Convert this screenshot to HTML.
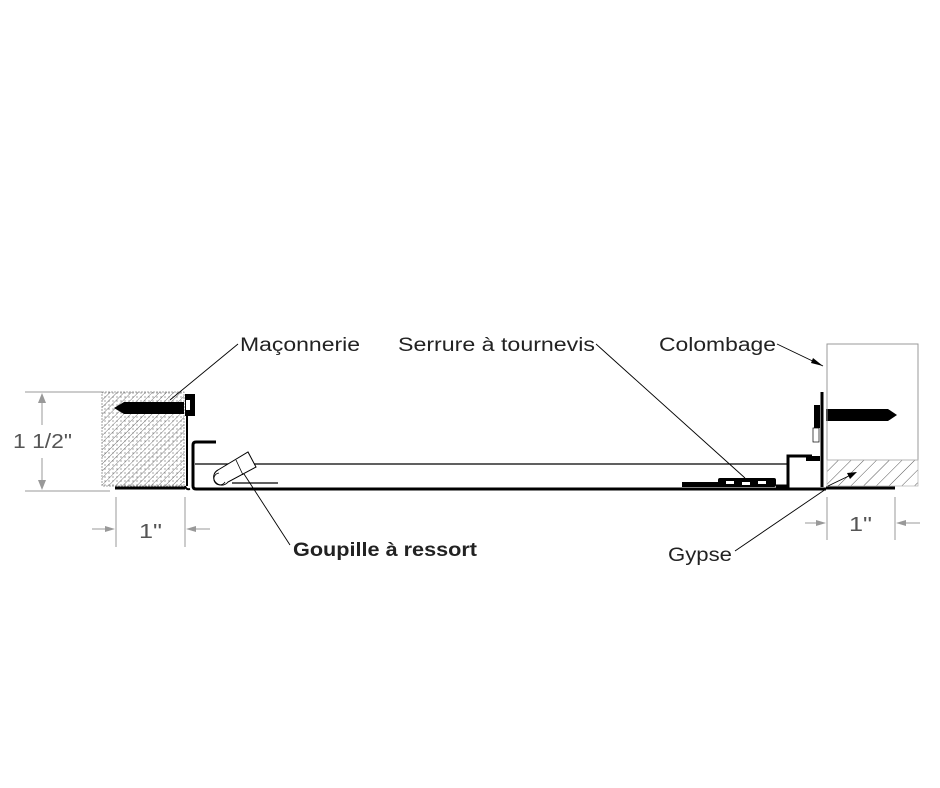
<!DOCTYPE html>
<html><head><style>
html,body{margin:0;padding:0;background:#fff;}
svg{display:block;}
text{font-family:"Liberation Sans",Arial,sans-serif;}
</style></head><body>
<svg width="940" height="788" viewBox="0 0 940 788" xmlns="http://www.w3.org/2000/svg">
<defs>
<pattern id="hatch" width="5" height="5" patternUnits="userSpaceOnUse" patternTransform="rotate(45)">
<line x1="0" y1="0" x2="0" y2="5" stroke="#555" stroke-width="0.8"/>
</pattern>
<pattern id="dots" width="4" height="4" patternUnits="userSpaceOnUse">
<circle cx="1" cy="1" r="0.6" fill="#666"/>
</pattern>
<pattern id="hatch2" width="9" height="9" patternUnits="userSpaceOnUse" patternTransform="rotate(45)">
<line x1="0" y1="0" x2="0" y2="9" stroke="#444" stroke-width="0.9"/>
</pattern>
</defs>

<rect x="102" y="392" width="82" height="94" fill="url(#hatch)"/>
<rect x="102" y="392" width="82" height="94" fill="url(#dots)"/>
<rect x="102" y="392" width="82" height="94" fill="none" stroke="#888" stroke-width="0.8" stroke-dasharray="2,1"/>

<polygon points="114,408 124,402 184,402 184,414 124,414" fill="#000"/>
<rect x="185" y="394" width="10" height="22" fill="#000"/>
<rect x="186" y="400" width="4" height="10" fill="#fff"/>
<line x1="187" y1="416" x2="187" y2="486" stroke="#000" stroke-width="2"/>

<line x1="115" y1="488" x2="185" y2="488" stroke="#000" stroke-width="3"/>
<path d="M185,486 Q186,490 190,489" fill="none" stroke="#000" stroke-width="2"/>

<path d="M216,442 L196,442 Q193,442 193,445 L193,486 Q193,489 196,489 L826,489" fill="none" stroke="#000" stroke-width="3"/>

<line x1="195" y1="464" x2="788" y2="464" stroke="#000" stroke-width="1.2"/>
<line x1="232" y1="483" x2="278" y2="483" stroke="#000" stroke-width="1.2"/>

<path d="M218,470 a8,8 0 1 0 10,12 L256,467 L248,452 Z" fill="#fff" stroke="#000" stroke-width="1"/>
<path d="M219,473 a6,6 0 1 0 6,9" fill="none" stroke="#000" stroke-width="0.8"/>
<line x1="236" y1="460" x2="243" y2="475" stroke="#000" stroke-width="0.8"/>

<rect x="682" y="482" width="40" height="5" fill="#000"/>
<rect x="718" y="478" width="58" height="9" rx="2" fill="#000"/>
<rect x="726" y="481" width="8" height="3" fill="#fff"/>
<rect x="742" y="482" width="8" height="3" fill="#fff"/>
<rect x="758" y="481" width="8" height="3" fill="#fff"/>
<path d="M776,486 L788,486 L788,456 L812,456" fill="none" stroke="#000" stroke-width="3"/>
<rect x="806" y="456" width="14" height="5" fill="#000"/>

<line x1="822" y1="392" x2="822" y2="487" stroke="#000" stroke-width="3"/>
<rect x="814" y="405" width="6" height="23" fill="#000"/>
<rect x="813" y="428" width="6" height="14" fill="#fff" stroke="#000" stroke-width="0.7"/>
<polygon points="826,409 888,409 897,415 888,421 826,421" fill="#000"/>

<rect x="827" y="344" width="91" height="116" fill="none" stroke="#999" stroke-width="1"/>
<rect x="827" y="460" width="91" height="26" fill="url(#hatch2)"/>
<rect x="827" y="460" width="91" height="26" fill="none" stroke="#bbb" stroke-width="0.8"/>
<line x1="826" y1="488" x2="895" y2="488" stroke="#000" stroke-width="3"/>

<g stroke="#999" stroke-width="1" fill="none">
<line x1="25" y1="392" x2="102" y2="392"/>
<line x1="25" y1="491" x2="110" y2="491"/>
<line x1="42" y1="395" x2="42" y2="425"/>
<line x1="42" y1="458" x2="42" y2="488"/>
<line x1="116" y1="497" x2="116" y2="547"/>
<line x1="185" y1="497" x2="185" y2="547"/>
<line x1="92" y1="529" x2="113" y2="529"/>
<line x1="188" y1="529" x2="210" y2="529"/>
<line x1="827" y1="497" x2="827" y2="540"/>
<line x1="895" y1="497" x2="895" y2="540"/>
<line x1="805" y1="523" x2="824" y2="523"/>
<line x1="898" y1="523" x2="920" y2="523"/>
</g>
<g fill="#999">
<polygon points="42,393 38,403 46,403"/>
<polygon points="42,490 38,480 46,480"/>
<polygon points="115,529 105,526 105,532"/>
<polygon points="186,529 196,526 196,532"/>
<polygon points="826,523 816,520 816,526"/>
<polygon points="896,523 906,520 906,526"/>
</g>
<text x="13" y="448" font-size="20" fill="#555" textLength="59" lengthAdjust="spacingAndGlyphs">1 1/2"</text>
<text x="139" y="538" font-size="20" fill="#555" textLength="23" lengthAdjust="spacingAndGlyphs">1"</text>
<text x="849" y="531" font-size="20" fill="#555" textLength="23" lengthAdjust="spacingAndGlyphs">1"</text>

<g stroke="#000" stroke-width="0.9" fill="none">
<line x1="238" y1="344" x2="170" y2="400"/>
<line x1="596" y1="344" x2="745" y2="478"/>
<line x1="777" y1="344" x2="823" y2="366"/>
<line x1="244" y1="474" x2="290" y2="545"/>
<line x1="735" y1="551" x2="826" y2="489"/>
<line x1="828" y1="486" x2="855" y2="473"/>
</g>
<polygon points="823,366 813,358 811,363" fill="#000"/>
<polygon points="857,472 847,473 850,479" fill="#000"/>

<text x="240" y="351" font-size="19" fill="#222" textLength="120" lengthAdjust="spacingAndGlyphs">Maçonnerie</text>
<text x="398" y="351" font-size="19" fill="#222" textLength="197" lengthAdjust="spacingAndGlyphs">Serrure à tournevis</text>
<text x="659" y="351" font-size="19" fill="#222" textLength="117" lengthAdjust="spacingAndGlyphs">Colombage</text>
<text x="293" y="556" font-size="19" font-weight="bold" fill="#222" textLength="184" lengthAdjust="spacingAndGlyphs">Goupille à ressort</text>
<text x="668" y="561" font-size="19" fill="#222" textLength="64" lengthAdjust="spacingAndGlyphs">Gypse</text>
</svg>
</body></html>
